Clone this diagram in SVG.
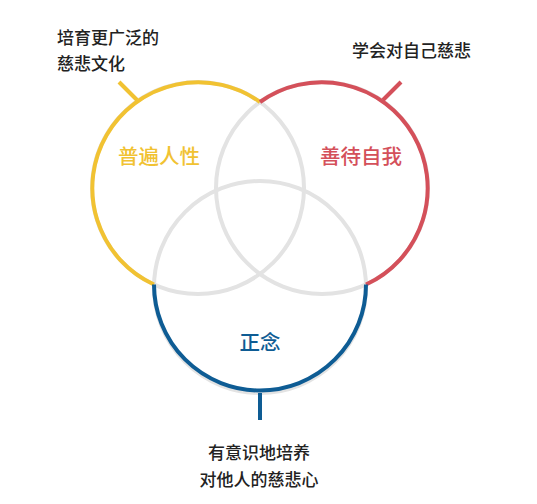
<svg xmlns="http://www.w3.org/2000/svg" width="537" height="504" viewBox="0 0 537 504">
<style>
.g{fill:none;stroke:#e3e3e3;stroke-width:4}
.c{fill:none;stroke-width:4}
.y{stroke:#f1c232}
.r{stroke:#d4505a}
.b{stroke:#0e5c94}
.t{font-family:"Noto Sans CJK SC",sans-serif;font-size:17px;font-weight:500;fill:#222}
.l{font-family:"Noto Sans CJK SC",sans-serif;font-size:20.5px;font-weight:500}
</style>
<rect width="537" height="504" fill="#fff"/>
<g id="connectors">
<circle class="g" cx="198" cy="188" r="106"/>
<circle class="g" cx="322" cy="188" r="106"/>
<circle class="g" cx="260" cy="287" r="106"/>
<line class="c y" x1="119" y1="82" x2="137" y2="100"/>
<line class="c r" x1="401" y1="82" x2="383" y2="100"/>
<line class="c b" x1="260" y1="393" x2="260" y2="420" stroke-width="5"/>
</g>
<g id="node-yellow">
<path class="c y" d="M260,102 A106,106 0 1 0 154,284.5"/>
<text class="l" x="159" y="164" text-anchor="middle" fill="#f1c232">普遍人性</text>
</g>
<g id="node-red">
<path class="c r" d="M260,102 A106,106 0 1 1 366,284.5"/>
<text class="l" x="361" y="164" text-anchor="middle" fill="#d4505a">善待自我</text>
</g>
<g id="node-blue">
<path class="c b" d="M154,284.5 A106,106 0 1 0 366,284.5"/>
<text class="l" x="260" y="350" text-anchor="middle" fill="#0e5c94">正念</text>
</g>
<g id="label-yellow">
<text class="t" x="57" y="44">培育更广泛的</text>
<text class="t" x="57" y="70">慈悲文化</text>
</g>
<g id="label-red">
<text class="t" x="352" y="57">学会对自己慈悲</text>
</g>
<g id="label-blue">
<text class="t" x="259" y="459" text-anchor="middle">有意识地培养</text>
<text class="t" x="259" y="486" text-anchor="middle">对他人的慈悲心</text>
</g>
</svg>
